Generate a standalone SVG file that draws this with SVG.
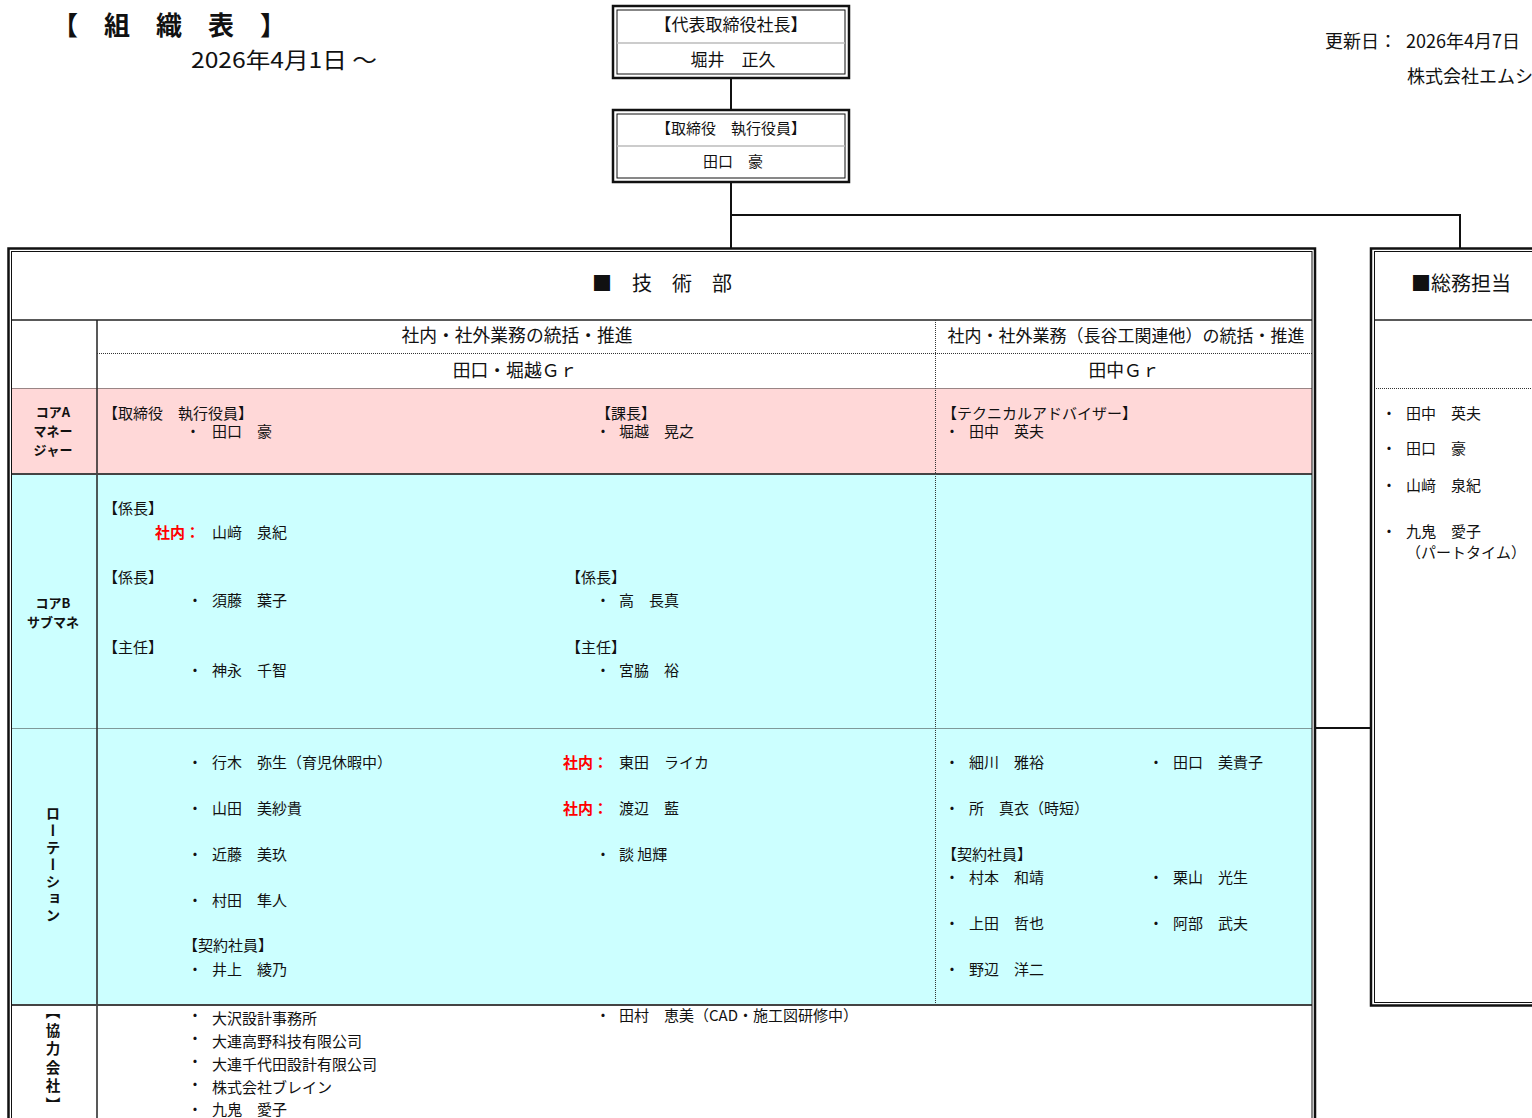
<svg xmlns="http://www.w3.org/2000/svg" width="1532" height="1118" viewBox="0 0 1532 1118">
<style>
text{font-family:"Noto Sans CJK JP","Noto Sans",sans-serif;fill:#111;font-kerning:none}
.t14{font-size:15px}
.t17{font-size:17px}
.h17{font-size:17.8px}
.b{font-weight:bold}
.lab{font-size:13px;font-weight:bold;text-anchor:middle}
.red{fill:#f00;font-weight:bold}
.c{text-anchor:middle}
.out{fill:none;stroke:#111;stroke-width:2.5}
.in{fill:none;stroke:#111;stroke-width:1}
.solid{stroke:#222;stroke-width:1.5}
.sep{stroke:#444;stroke-width:2}
.dot{stroke:#333;stroke-width:1;stroke-dasharray:1 1}
.conn{stroke:#111;stroke-width:2;fill:none}
.vert{writing-mode:vertical-rl;text-anchor:middle;font-weight:bold;font-size:14.5px}
</style>

<g id="title">
<text x="52" y="35" style="font-size:26px;font-weight:bold">【　組　織　表　】</text>
<text x="191" y="68" style="font-size:22px" textLength="186" lengthAdjust="spacingAndGlyphs">2026年4月1日 ～</text>
</g>

<g id="update">
<text x="1325" y="48" style="font-size:18px">更新日：</text>
<text x="1406" y="48" style="font-size:18px">2026年4月7日</text>
<text x="1407" y="83" style="font-size:18px">株式会社エムシ</text>
</g>

<g id="connectors">
<path class="conn" d="M731 78V110M731 182V248M731 215H1460V248M1315 728H1371"/>
</g>

<g id="president">
<rect x="613" y="6" width="236" height="72" fill="#fff" class="out"/>
<rect x="617" y="10" width="228" height="64" class="in"/>
<line x1="617" y1="43" x2="845" y2="43" stroke="#bbb" stroke-width="1.5"/>
<text class="t17 c" x="731" y="31">【代表取締役社長】</text>
<text class="t17 c" x="733" y="66">堀井　正久</text>
</g>

<g id="director">
<rect x="613" y="110" width="236" height="72" fill="#fff" class="out"/>
<rect x="617" y="114" width="228" height="64" class="in"/>
<line x1="617" y1="146" x2="845" y2="146" stroke="#bbb" stroke-width="1.5"/>
<text class="t14 c" x="731" y="134">【取締役　執行役員】</text>
<text class="t14 c" x="733" y="167">田口　豪</text>
</g>

<g id="tech-dept">
<rect x="11.5" y="251.5" width="1300.5" height="870" fill="#fff"/>
<rect x="11.5" y="388" width="1300.5" height="86" fill="#FFD8D8"/>
<rect x="11.5" y="474" width="1300.5" height="531" fill="#CCFFFF"/>
<line class="solid" x1="11.5" y1="320" x2="1312" y2="320"/>
<line class="solid" x1="97" y1="320" x2="97" y2="1118"/>
<line class="dot" x1="97" y1="353.5" x2="1312" y2="353.5"/>
<line class="dot" x1="11.5" y1="388.5" x2="1312" y2="388.5"/>
<line class="dot" x1="11.5" y1="728.5" x2="1312" y2="728.5"/>
<line class="dot" x1="935.5" y1="320" x2="935.5" y2="1005"/>
<line class="sep" x1="11.5" y1="474" x2="1312" y2="474"/>
<line class="sep" x1="11.5" y1="1005" x2="1312" y2="1005"/>
<rect x="8.5" y="248.5" width="1306.5" height="880" class="out"/>
<rect x="11.5" y="251.5" width="1300.5" height="870" class="in"/>

<text x="592" y="291" style="font-size:20px">■　技　術　部</text>
<text class="h17 c" x="517" y="342">社内・社外業務の統括・推進</text>
<text class="t17 c" x="1126" y="342">社内・社外業務（長谷工関連他）の統括・推進</text>
<text class="h17 c" x="515" y="377">田口・堀越Ｇｒ</text>
<text class="h17 c" x="1124" y="377">田中Ｇｒ</text>

<text class="lab" x="53" y="417">コアA</text>
<text class="lab" x="53" y="436">マネー</text>
<text class="lab" x="53" y="455">ジャー</text>
<text class="lab" x="53" y="608">コアB</text>
<text class="lab" x="53" y="627">サブマネ</text>
<text class="vert" x="53" y="866" style="letter-spacing:2.5px">ローテーション</text>
<text class="vert" x="53" y="1060" style="letter-spacing:4px">【協力会社】</text>

<text class="t14" x="103" y="419">【取締役　執行役員】</text>
<text class="t14 c" x="193" y="437">・</text><text class="t14" x="212" y="437">田口　豪</text>
<text class="t14" x="596" y="419">【課長】</text>
<text class="t14 c" x="603" y="437">・</text><text class="t14" x="619" y="437">堀越　晃之</text>
<text class="t14" x="942" y="419">【テクニカルアドバイザー】</text>
<text class="t14 c" x="952" y="437">・</text><text class="t14" x="969" y="437">田中　英夫</text>

<text class="t14" x="103" y="514">【係長】</text>
<text class="t14 red" x="155" y="538">社内：</text><text class="t14" x="212" y="538">山﨑　泉紀</text>
<text class="t14" x="103" y="583">【係長】</text>
<text class="t14 c" x="195" y="606">・</text><text class="t14" x="212" y="606">須藤　葉子</text>
<text class="t14" x="103" y="653">【主任】</text>
<text class="t14 c" x="195" y="676">・</text><text class="t14" x="212" y="676">神永　千智</text>
<text class="t14" x="566" y="583">【係長】</text>
<text class="t14 c" x="603" y="606">・</text><text class="t14" x="619" y="606">高　長真</text>
<text class="t14" x="566" y="653">【主任】</text>
<text class="t14 c" x="603" y="676">・</text><text class="t14" x="619" y="676">宮脇　裕</text>

<text class="t14 c" x="195" y="768">・</text><text class="t14" x="212" y="768">行木　弥生（育児休暇中）</text>
<text class="t14 c" x="195" y="814">・</text><text class="t14" x="212" y="814">山田　美紗貴</text>
<text class="t14 c" x="195" y="860">・</text><text class="t14" x="212" y="860">近藤　美玖</text>
<text class="t14 c" x="195" y="906">・</text><text class="t14" x="212" y="906">村田　隼人</text>
<text class="t14" x="183" y="951">【契約社員】</text>
<text class="t14 c" x="195" y="975">・</text><text class="t14" x="212" y="975">井上　綾乃</text>
<text class="t14 red" x="563" y="768">社内：</text><text class="t14" x="619" y="768">東田　ライカ</text>
<text class="t14 red" x="563" y="814">社内：</text><text class="t14" x="619" y="814">渡辺　藍</text>
<text class="t14 c" x="603" y="860">・</text><text class="t14" x="619" y="860">談 旭輝</text>

<text class="t14 c" x="952" y="768">・</text><text class="t14" x="969" y="768">細川　雅裕</text>
<text class="t14 c" x="1156" y="768">・</text><text class="t14" x="1173" y="768">田口　美貴子</text>
<text class="t14 c" x="952" y="814">・</text><text class="t14" x="969" y="814">所　真衣（時短）</text>
<text class="t14" x="942" y="860">【契約社員】</text>
<text class="t14 c" x="952" y="883">・</text><text class="t14" x="969" y="883">村本　和靖</text>
<text class="t14 c" x="1156" y="883">・</text><text class="t14" x="1173" y="883">栗山　光生</text>
<text class="t14 c" x="952" y="929">・</text><text class="t14" x="969" y="929">上田　哲也</text>
<text class="t14 c" x="1156" y="929">・</text><text class="t14" x="1173" y="929">阿部　武夫</text>
<text class="t14 c" x="952" y="975">・</text><text class="t14" x="969" y="975">野辺　洋二</text>

<text class="t14 c" x="195" y="1021">・</text><text class="t14" x="212" y="1024">大沢設計事務所</text>
<text class="t14 c" x="195" y="1044">・</text><text class="t14" x="212" y="1047">大連高野科技有限公司</text>
<text class="t14 c" x="195" y="1067">・</text><text class="t14" x="212" y="1070">大連千代田設計有限公司</text>
<text class="t14 c" x="195" y="1090">・</text><text class="t14" x="212" y="1093">株式会社ブレイン</text>
<text class="t14 c" x="195" y="1115">・</text><text class="t14" x="212" y="1115">九鬼　愛子</text>
<text class="t14 c" x="603" y="1021">・</text><text class="t14" x="619" y="1021">田村　恵美（CAD・施工図研修中）</text>
</g>

<g id="general-affairs">
<rect x="1374" y="251.5" width="170" height="751" fill="#fff"/>
<line class="solid" x1="1374" y1="320" x2="1532" y2="320"/>
<line class="dot" x1="1374" y1="388.5" x2="1532" y2="388.5"/>
<rect x="1371" y="248.5" width="200" height="757" class="out"/>
<rect x="1374.5" y="251.5" width="200" height="751" class="in"/>
<text class="c" x="1461" y="291" style="font-size:20px">■総務担当</text>
<text class="t14 c" x="1389" y="419">・</text><text class="t14" x="1406" y="419">田中　英夫</text>
<text class="t14 c" x="1389" y="454">・</text><text class="t14" x="1406" y="454">田口　豪</text>
<text class="t14 c" x="1389" y="491">・</text><text class="t14" x="1406" y="491">山﨑　泉紀</text>
<text class="t14 c" x="1389" y="537">・</text><text class="t14" x="1406" y="537">九鬼　愛子</text>
<text class="t14" x="1406" y="558">（パートタイム）</text>
</g>
</svg>
